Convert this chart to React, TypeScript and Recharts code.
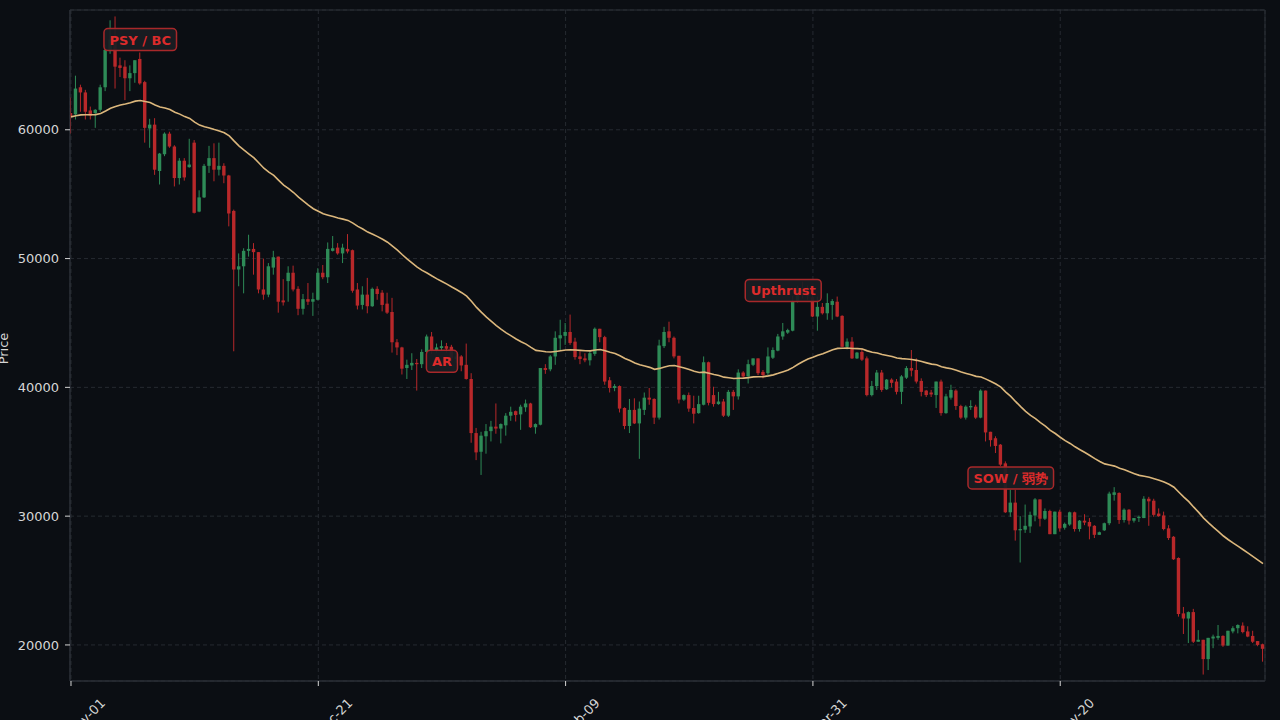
import { useLayoutEffect, useRef, useState } from 'react';
import {
  ComposedChart,
  Bar,
  Line,
  XAxis,
  YAxis,
  CartesianGrid,
  ReferenceDot,
  ReferenceArea
} from 'recharts';

// tick labels
const dayTicks = [0, 50, 100, 150, 200];
const dayLabels = ['Nov-01', 'Dec-21', 'Feb-09', 'Mar-31', 'May-20'];
const priceTicks = [20000, 30000, 40000, 50000, 60000];

// daily OHLC, Nov-01 .. Jun-30
const opens = [
  61300, 61200, 63300, 62900, 61500, 61300, 61550, 63300, 66200, 66900,
  65000, 64900, 64000, 64400, 65500, 63700, 60100, 60400, 56800, 58100,
  59700, 58700, 56250, 57600, 57100, 59000, 53650, 54750, 57200, 57800,
  56900, 57200, 56450, 53700, 49150, 49400, 50600, 50750, 50500, 47600,
  47200, 49300, 50150, 46750, 48250, 48900, 47650, 46100, 46850, 46650,
  46800, 48900, 48550, 50600, 50850, 50400, 50750, 50650, 47600, 46400,
  47200, 46300, 47650, 47350, 46500, 45850, 43500, 43100, 41500, 41700,
  41900, 41800, 42750, 43950, 42900, 43050, 43200, 43150, 42200, 42400,
  41750, 40650, 36450, 35000, 36200, 36600, 36950, 36800, 37050, 37800,
  38150, 37900, 38450, 38750, 36900, 37100, 41500, 41400, 42400, 43800,
  44000, 44300, 43550, 42400, 42250, 42100, 42600, 44550, 43900, 40550,
  39950, 40100, 38400, 37000, 38250, 37200, 38250, 39200, 39100, 37650,
  43200, 44350, 43850, 42450, 39050, 39400, 38400, 38000, 38650, 41950,
  39400, 38700, 38900, 37800, 39650, 39300, 41150, 40850, 41750, 42250,
  41200, 41100, 42300, 42850, 43950, 44250, 44400, 46700, 47600, 47300,
  47000, 45500, 46250, 45750, 46400, 46650, 45550, 43150, 43550, 42250,
  42750, 42250, 39400, 40100, 41150, 39850, 40600, 40450, 39650, 40750,
  41500, 41350, 40500, 39750, 39600, 39400, 40450, 38000, 39200, 39750,
  38550, 37650, 38450, 38500, 37650, 39750, 36550, 36050, 35550, 34100,
  30300, 31050, 28900, 28950, 29200, 30050, 31300, 29800, 30400, 28600,
  30350, 29100, 29350, 30300, 29000, 29650, 29550, 29250, 28550, 28900,
  29450, 31650, 31800, 29700, 30500, 29650, 29850, 29850, 31350, 31200,
  30200, 30050, 29050, 28400, 26750, 22450, 22050, 22550, 20250, 20400,
  18900, 20500, 20550, 20700, 19950, 21050, 21300, 21500, 21050, 20700,
  20300, 20050
];

const highs = [
  62500, 64200, 63500, 63100, 61800, 61600, 63500, 66600, 68500, 68800,
  65600, 65400, 65000, 65400, 66000, 63800, 60850, 60900, 58200, 59800,
  59850, 58800, 57800, 57800, 59300, 59200, 55300, 57350, 58750, 58950,
  59000, 57400, 56500, 53800, 50400, 50800, 51850, 51200, 50500, 50000,
  49650, 50600, 50150, 48400, 49400, 49450, 47850, 47250, 48100, 47350,
  49250, 49500, 51250, 51750, 51200, 51150, 51900, 50700, 48100, 47850,
  48500, 47750, 47850, 47550, 47350, 46950, 43750, 43150, 42150, 42650,
  42200, 42950, 44100, 44300, 43400, 43650, 43450, 43300, 42700, 42500,
  43400, 41100, 36850, 36550, 37150, 37400, 38750, 37200, 38000, 38500,
  38200, 38650, 39050, 38800, 37200, 41500, 41800, 42500, 44350, 45250,
  45000, 45650, 43850, 42800, 42650, 42800, 44650, 44550, 44000, 40800,
  40250, 40150, 38450, 39100, 39150, 38900, 39600, 39950, 39150, 43700,
  44700, 45100, 43950, 42450, 39450, 39600, 39350, 39350, 42400, 42000,
  40050, 39650, 39100, 39800, 39800, 41400, 41250, 42150, 42250, 42250,
  41350, 43100, 43100, 44150, 45000, 44550, 47100, 47900, 48200, 47900,
  47300, 47050, 46550, 47300, 46850, 47050, 45600, 43800, 43900, 42750,
  43050, 42400, 40500, 41350, 41350, 40650, 40700, 40650, 40950, 41650,
  42900, 42250, 40700, 39800, 39800, 40450, 40600, 39500, 40200, 39850,
  38650, 38600, 39000, 38650, 39850, 39750, 36550, 36200, 35600, 34250,
  32050, 32050, 30000, 30900, 30350, 31400, 31300, 30600, 30500, 30350,
  30500, 29500, 30350, 30350, 29700, 30150, 29850, 29300, 28800, 29500,
  31900, 32250, 31850, 30600, 30550, 29850, 30050, 31550, 31500, 31350,
  30600, 30350, 29300, 28450, 26800, 22950, 22600, 22800, 21150, 20400,
  20550, 20800, 21550, 20750, 21100, 21450, 21600, 21750, 21450, 21100,
  20300, 20100
];

const lows = [
  59700, 60800, 61400, 60800, 60800, 60150, 61400, 63000, 65900, 63200,
  64100, 62300, 63000, 63650, 63500, 59000, 58600, 56500, 55750, 57950,
  58600, 55600, 55750, 56050, 57050, 53500, 53600, 54700, 56650, 56000,
  56450, 55850, 52500, 42800, 47850, 47300, 50150, 48750, 47300, 46800,
  47000, 48750, 45800, 46350, 46650, 47450, 45600, 45650, 46400, 45550,
  46750, 48400, 48100, 50550, 50300, 49650, 50400, 47350, 46050, 46050,
  45750, 46250, 46800, 45900, 45700, 42700, 42500, 41000, 40650, 41350,
  39750, 41500, 42600, 42600, 42700, 42800, 42700, 42000, 41900, 41250,
  40600, 35700, 34350, 33200, 34850, 35800, 36400, 35650, 36250, 37400,
  37350, 36700, 38100, 36850, 36400, 37050, 41050, 41250, 41750, 42900,
  43300, 43300, 42150, 41800, 41950, 41700, 42450, 43500, 40200, 39600,
  39700, 38050, 36750, 36450, 37150, 34450, 37850, 38650, 37150, 37500,
  43050, 43500, 42250, 38750, 38950, 38100, 37200, 37950, 38600, 38600,
  38500, 38650, 37700, 37700, 38250, 39050, 40650, 40300, 41650, 40950,
  40700, 40950, 42200, 42800, 43700, 44150, 44350, 46600, 46900, 46800,
  45450, 44400, 45650, 45250, 45250, 45450, 43100, 42950, 42200, 42200,
  42050, 39300, 39300, 39800, 39650, 39800, 40000, 39450, 38700, 40650,
  40850, 40300, 39300, 39250, 39250, 38400, 37800, 37950, 39050, 38250,
  37550, 37500, 38250, 37550, 37600, 35800, 35400, 34900, 33900, 30250,
  29950, 28100, 26400, 28700, 28700, 29600, 29200, 29700, 28600, 28600,
  28800, 28950, 29250, 28800, 28800, 29300, 28200, 28300, 28550, 28850,
  29300, 31200, 29400, 29500, 29350, 29500, 29550, 29850, 29250, 29950,
  29950, 28900, 28150, 26600, 22200, 20850, 20150, 20150, 20250, 17700,
  18050, 19750, 20400, 19850, 19950, 20900, 20900, 20900, 20600, 20150,
  19900, 18700
];

const closes = [
  61000, 63200, 62900, 61400, 61100, 61550, 63300, 66200, 67000, 64900,
  64800, 64000, 64400, 65400, 63600, 60150, 60400, 56900, 58150, 59700,
  58700, 56250, 57600, 56300, 57300, 53550, 54750, 57200, 57800, 56900,
  57200, 56450, 53500, 49150, 49400, 50600, 50750, 50500, 47600, 47200,
  49400, 50100, 46650, 46600, 48900, 47600, 46100, 46850, 46650, 46850,
  48900, 48550, 50750, 50800, 50400, 50850, 50550, 47500, 46350, 47200,
  46300, 47650, 47250, 46400, 45800, 43500, 43100, 41450, 41750, 41900,
  41800, 42750, 43950, 42900, 43100, 43200, 43000, 42250, 42400, 41700,
  40650, 36450, 34950, 36250, 36600, 36950, 36800, 37150, 37800, 38100,
  37850, 38500, 38750, 36900, 37150, 41500, 41350, 42400, 43850, 44050,
  44300, 43450, 42350, 42200, 42100, 42650, 44550, 43900, 40450, 39950,
  40100, 38350, 37000, 38250, 37200, 38350, 39200, 39050, 37650, 43250,
  44300, 43850, 42400, 39050, 39400, 38350, 37950, 38700, 41950, 38800,
  38700, 38900, 37800, 39650, 39300, 41150, 40850, 41800, 42250, 41100,
  40950, 42400, 42900, 43950, 44350, 44450, 46700, 47600, 47300, 47100,
  45500, 46250, 45750, 46550, 46700, 45500, 43150, 43550, 42250, 42700,
  42150, 39400, 40100, 41150, 39800, 40600, 40350, 39650, 40850, 41500,
  41300, 40450, 39650, 39400, 39450, 40450, 38000, 39300, 39800, 38550,
  37650, 38500, 38550, 37650, 39750, 36500, 35900, 35450, 34000, 30300,
  31050, 28900, 29000, 29250, 30100, 31300, 29800, 30400, 28600, 30350,
  29050, 29400, 30300, 29000, 29650, 29500, 29200, 28550, 28750, 29450,
  31750, 31850, 29700, 30500, 29650, 29850, 29950, 31350, 31150, 30100,
  30000, 29000, 28300, 26650, 22400, 22050, 22550, 20250, 20400, 18900,
  20550, 20650, 20700, 19950, 21100, 21300, 21550, 21000, 20650, 20250,
  20000, 19700
];

// Wyckoff event labels (day index, price)
const events = [
  { text: 'PSY / BC', day: 14, price: 67000 },
  { text: 'AR', day: 75, price: 42020 },
  { text: 'Upthrust', day: 144, price: 47530 },
  { text: 'SOW / 弱势', day: 190, price: 32970 }
];

const BG = '#0b0e13';
const UP = '#2e8b57';
const DOWN = '#b8282a';
const MA = '#dcb77c';
const FRAME = '#2b2f36';
const GRID = '#262a31';
const TEXT = '#d6d6d6';
const FONT = '"DejaVu Sans", sans-serif';

const ema = (values: number[], span: number) => {
  const a = 2 / (span + 1);
  const out: number[] = [];
  let prev = values[0];
  values.forEach((v, i) => {
    prev = i === 0 ? v : a * v + (1 - a) * prev;
    out.push(prev);
  });
  return out;
};

const ma50 = ema(closes, 50);

const data = closes.map((c, i) => ({
  day: i,
  open: opens[i],
  high: highs[i],
  low: lows[i],
  close: c,
  range: [lows[i], highs[i]],
  ma: ma50[i]
}));

const Candle = (props: any) => {
  const { x, y, width, height, payload } = props;
  if (!payload) return null;
  const { open, close, high, low } = payload;
  const top = Math.min(y, y + height);
  const h = Math.abs(height);
  const k = high > low ? h / (high - low) : 0;
  const py = (v: number) => top + (high - v) * k;
  const cx = x + width / 2;
  const color = close >= open ? UP : DOWN;
  const bTop = py(Math.max(open, close));
  const bH = Math.max(1, py(Math.min(open, close)) - bTop);
  const bw = 3.4;
  return (
    <g>
      <line x1={cx} x2={cx} y1={top} y2={top + h} stroke={color} strokeWidth={1} />
      <rect x={cx - bw / 2} y={bTop} width={bw} height={bH} fill={color} />
    </g>
  );
};

const EventTag = ({ cx, cy, text }: { cx: number; cy: number; text: string }) => {
  const ref = useRef<SVGTextElement>(null);
  const [w, setW] = useState(text.length * 8);
  useLayoutEffect(() => {
    if (ref.current) setW(ref.current.getBBox().width);
  }, [text]);
  const bw = w + 11;
  const bh = 22;
  return (
    <g>
      <rect
        x={cx - bw / 2}
        y={cy - bh / 2}
        width={bw}
        height={bh}
        rx={4}
        fill="#1a1d23"
        fillOpacity={0.92}
        stroke="#a8282a"
        strokeWidth={1.5}
      />
      <text
        ref={ref}
        x={cx}
        y={cy + 5}
        textAnchor="middle"
        fill="#dc2b2b"
        fontSize={13}
        fontWeight="bold"
        fontFamily={FONT}
      >
        {text}
      </text>
    </g>
  );
};

const DayTick = (props: any) => {
  const { x, y, payload } = props;
  const i = dayTicks.indexOf(payload.value);
  const px = x + 35;
  const py = y + 18;
  return (
    <text
      x={px}
      y={py}
      textAnchor="end"
      fill={TEXT}
      fontSize={13}
      fontFamily={FONT}
      transform={`rotate(-45 ${px} ${py})`}
    >
      {dayLabels[i]}
    </text>
  );
};

const PriceLabel = (props: any) => {
  const vb = props.viewBox;
  const lx = vb.x - 2;
  const ly = vb.y + vb.height / 2 + 3;
  return (
    <text
      x={lx}
      y={ly}
      textAnchor="middle"
      fill={TEXT}
      fontSize={13}
      fontFamily={FONT}
      transform={`rotate(-90 ${lx} ${ly})`}
    >
      Price
    </text>
  );
};

const xDomain = [-0.2, 241.4];
const yDomain = [17200, 69300];

export default function App() {
  return (
    <div
      style={{
        position: 'fixed',
        left: 0,
        top: 0,
        width: 1280,
        height: 720,
        background: BG,
        overflow: 'hidden'
      }}
    >
      <ComposedChart
        width={1280}
        height={720}
        data={data}
        margin={{ top: 10, right: 15, bottom: 0, left: 10 }}
      >
        <CartesianGrid stroke={GRID} strokeDasharray="4 3" />
        <XAxis
          type="number"
          dataKey="day"
          domain={xDomain}
          allowDataOverflow
          ticks={dayTicks}
          interval={0}
          height={39}
          tickSize={5}
          tickMargin={0}
          tickLine={{ stroke: TEXT }}
          axisLine={{ stroke: FRAME }}
          tick={<DayTick />}
        />
        <YAxis
          type="number"
          domain={yDomain}
          allowDataOverflow
          ticks={priceTicks}
          interval={0}
          width={60}
          tickSize={5}
          tickMargin={6}
          tickLine={{ stroke: TEXT }}
          axisLine={{ stroke: FRAME }}
          tick={{ fill: TEXT, fontSize: 13, fontFamily: FONT }}
          label={<PriceLabel />}
        />
        <ReferenceArea
          x1={xDomain[0]}
          x2={xDomain[1]}
          y1={yDomain[0]}
          y2={yDomain[1]}
          fill="none"
          stroke={FRAME}
          ifOverflow="visible"
        />
        <Bar
          dataKey="range"
          barSize={4}
          shape={<Candle />}
          isAnimationActive={false}
        />
        <Line
          type="linear"
          dataKey="ma"
          stroke={MA}
          strokeWidth={1.6}
          dot={false}
          activeDot={false}
          isAnimationActive={false}
        />
        {events.map((e) => (
          <ReferenceDot
            key={e.text}
            x={e.day}
            y={e.price}
            r={0}
            ifOverflow="visible"
            shape={(p: any) => <EventTag cx={p.cx} cy={p.cy} text={e.text} />}
          />
        ))}
      </ComposedChart>
    </div>
  );
}
